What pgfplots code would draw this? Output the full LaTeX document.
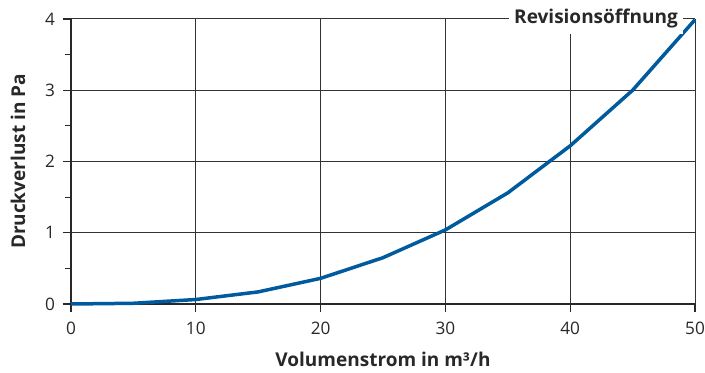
\documentclass[border=0pt]{standalone}
\usepackage{pgfplots}
\pgfplotsset{compat=1.18}
\usepackage{fontspec}
\setmainfont{Open Sans}
\definecolor{curve}{RGB}{0,90,158}
\definecolor{txt}{RGB}{40,40,40}
\begin{document}
\begin{tikzpicture}
\begin{axis}[
  scale only axis,
  width=312pt, height=142.5pt,
  xmin=0, xmax=50, ymin=0, ymax=4,
  axis lines*=left,
  axis line style={line width=1pt, color=txt},
  xtick={0,10,...,50}, ytick={0,1,2,3,4},
  minor ytick={0.5,1.5,2.5,3.5},
  grid=major,
  major grid style={line width=0.5pt, color=black!80},
  tick style={line width=0.6pt, color=txt},
  major tick length=4pt, minor tick length=3pt,
  tick align=outside,
  /pgf/number format/assume math mode=true,
  ticklabel style={font=\fontsize{8.6}{10}\selectfont, color=txt},
  xticklabel style={yshift=-1.5pt},
  yticklabel style={xshift=-0.5pt},
  xlabel={Volumenstrom in m³/h},
  ylabel={Druckverlust in Pa},
  label style={font=\fontsize{9.5}{11}\selectfont\bfseries, color=txt},
  xlabel style={at={(axis description cs:0.5,-0.196)}, anchor=center},
  ylabel style={at={(axis description cs:-0.085,0.5)}, anchor=center},
  clip=false,
]
\addplot[color=curve, line width=1.75pt] coordinates {
  (0,0) (5,0.01) (10,0.063) (15,0.17) (20,0.36) (25,0.65)
  (30,1.04) (35,1.56) (40,2.22) (45,3.0) (50,3.99)
};
\node[fill=white, inner sep=2.5pt, font=\fontsize{9.5}{11}\selectfont\bfseries, text=txt] at (axis cs:42.07,4) {Revisionsöffnung};
\end{axis}
\pgfresetboundingbox
\path (-35.5pt,-34.5pt) rectangle (317pt,152pt);
\end{tikzpicture}
\end{document}
